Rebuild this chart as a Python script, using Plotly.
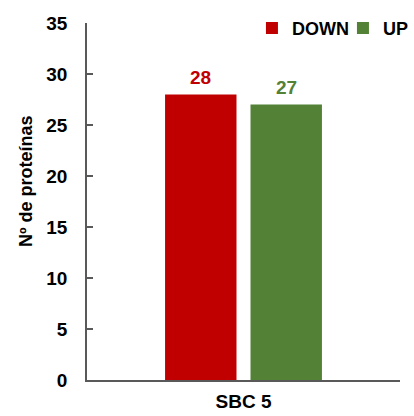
import plotly.graph_objects as go

categories = ["SBC 5"]
series_names = ["DOWN", "UP"]
down_values = [28]
up_values = [27]
y_ticks = [0, 5, 10, 15, 20, 25, 30, 35]

RED = "#C00000"
GREEN = "#538135"
AXIS = "#595959"
FONT = "Arial, Liberation Sans, sans-serif"

PLOT_W = 414 - 87 - 14
BARGAP = 0.454
# horizontal offset of each bar's centre from the category centre
bar_offset = PLOT_W * (1 - BARGAP) / 4

fig = go.Figure()
series = [(series_names[0], down_values, RED, -bar_offset, 46),
          (series_names[1], up_values, GREEN, bar_offset, None)]
for name, vals, col, dx, lw in series:
    fig.add_trace(go.Bar(
        x=categories, y=vals, name=name,
        marker=dict(color=col, line=dict(width=0)),
        legendwidth=lw,
    ))
    # value labels above each bar
    for cat, v in zip(categories, vals):
        fig.add_annotation(
            x=cat, y=v, text=f"<b>{v}</b>", showarrow=False,
            xshift=dx, yshift=17, xanchor="center", yanchor="middle",
            font=dict(family=FONT, size=19, color=col),
        )

fig.update_layout(
    width=414, height=416,
    margin=dict(l=87, r=14, t=23, b=36, autoexpand=False),
    paper_bgcolor="white", plot_bgcolor="white",
    barmode="group", bargap=BARGAP, bargroupgap=0.164,
    font=dict(family=FONT, size=18, color="black"),
    showlegend=True,
    legend=dict(orientation="h", x=0.527, xanchor="left", y=0.985, yanchor="middle",
                font=dict(family=FONT, size=18, color="black", weight="bold"),
                itemwidth=30, traceorder="normal", bgcolor="rgba(0,0,0,0)"),
)
fig.update_xaxes(
    showline=True, linecolor=AXIS, linewidth=1.5,
    ticks="", showgrid=False, zeroline=False, automargin=False,
    ticklabelstandoff=3,
    tickfont=dict(family=FONT, size=19, color="black", weight="bold"),
)
fig.update_yaxes(
    range=[0, 35], tickvals=y_ticks, showgrid=False, zeroline=False,
    showline=True, linecolor=AXIS, linewidth=1.5, automargin=False,
    ticks="inside", ticklen=6, tickcolor=AXIS, tickwidth=1.5,
    tickfont=dict(family=FONT, size=19, color="black", weight="bold"),
    ticklabelstandoff=14,
)
fig.add_annotation(
    text="<b>Nº de proteínas</b>", textangle=-90, showarrow=False,
    xref="paper", yref="paper", x=-0.195, y=0.557,
    xanchor="center", yanchor="middle",
    font=dict(family=FONT, size=18, color="black"),
)

fig.write_html("out.html")
